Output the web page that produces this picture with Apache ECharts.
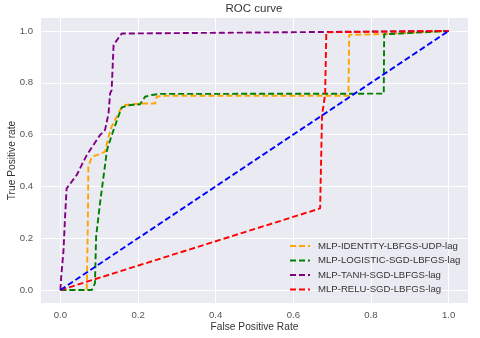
<!DOCTYPE html>
<html>
<head>
<meta charset="utf-8">
<script src="https://cdn.jsdelivr.net/npm/echarts@6/dist/echarts.min.js"></script>
<style>html,body{margin:0;padding:0;background:#fff}#c{width:480px;height:338px}</style>
</head>
<body>
<div id="c"></div>
<script>
var seriesNames = ['MLP-IDENTITY-LBFGS-UDP-lag','MLP-LOGISTIC-SGD-LBFGS-lag','MLP-TANH-SGD-LBFGS-lag','MLP-RELU-SGD-LBFGS-lag'];
var tickValues = [0, 0.2, 0.4, 0.6, 0.8, 1.0];

var identityFpr = [0, 0.068, 0.071, 0.072, 0.081, 0.094, 0.102, 0.115, 0.124, 0.132, 0.145, 0.154, 0.167, 0.205, 0.244, 0.248, 0.261, 0.742, 0.744, 0.833, 1.0];
var identityTpr = [0, 0, 0.30, 0.476, 0.515, 0.521, 0.525, 0.534, 0.592, 0.631, 0.669, 0.695, 0.714, 0.72, 0.72, 0.746, 0.75, 0.75, 0.985, 0.988, 1.0];

var logisticFpr = [0, 0.081, 0.089, 0.092, 0.102, 0.111, 0.12, 0.124, 0.137, 0.149, 0.158, 0.18, 0.205, 0.218, 0.236, 0.257, 0.833, 0.834, 1.0];
var logisticTpr = [0, 0, 0.026, 0.206, 0.335, 0.437, 0.54, 0.56, 0.618, 0.669, 0.705, 0.714, 0.717, 0.746, 0.753, 0.757, 0.758, 0.987, 1.0];

var tanhFpr = [0, 0.002, 0.008, 0.012, 0.016, 0.029, 0.042, 0.055, 0.068, 0.085, 0.102, 0.115, 0.124, 0.128, 0.132, 0.137, 0.149, 0.158, 1.0];
var tanhTpr = [0, 0.05, 0.154, 0.283, 0.392, 0.418, 0.444, 0.483, 0.521, 0.56, 0.598, 0.618, 0.682, 0.759, 0.772, 0.946, 0.972, 0.99, 1.0];

var reluFpr = [0, 0.669, 0.674, 0.678, 0.682, 0.685, 1.0];
var reluTpr = [0, 0.315, 0.676, 0.714, 0.759, 0.995, 1.0];

var diagFpr = [0, 1];
var diagTpr = [0, 1];

function zip(a, b) { return a.map(function (v, i) { return [v, b[i]]; }); }

var colors = ['#ffa500', '#008000', '#800080', '#ff0000'];
var lists = [[identityFpr, identityTpr], [logisticFpr, logisticTpr], [tanhFpr, tanhTpr], [reluFpr, reluTpr]];
var font = '"Liberation Sans", Arial, sans-serif';
var dashIcon = 'path://M0,0h6v2h-6z M9,0h6v2h-6z M18,0h2v2h-2z';

var series = lists.map(function (p, i) {
  return {
    name: seriesNames[i], type: 'line', data: zip(p[0], p[1]),
    symbol: 'none', smooth: false, animation: false,
    lineStyle: { color: colors[i], width: 1.9, type: [6, 3] },
    itemStyle: { color: colors[i] }
  };
});
series.push({
  name: 'diag', type: 'line', data: zip(diagFpr, diagTpr), symbol: 'none', animation: false,
  lineStyle: { color: '#0000ff', width: 1.9, type: [6, 3] }, itemStyle: { color: '#0000ff' }
});

function axis(name, gap, isY) {
  return {
    type: 'value', min: -0.05, max: 1.05, name: name, nameLocation: 'middle', nameGap: gap,
    nameMoveOverlap: false,
    nameTextStyle: { color: '#333', fontSize: 10.2, fontFamily: font },
    axisLine: { show: false },
    axisTick: { show: false, customValues: tickValues },
    axisLabel: { customValues: tickValues, color: '#555', fontSize: 9.6, fontFamily: font, margin: isY ? 8 : 7,
      formatter: function (v) { return v.toFixed(1); } },
    splitLine: { show: true, lineStyle: { color: '#ffffff', width: 1 } }
  };
}

var chart = echarts.init(document.getElementById('c'), null, { renderer: 'canvas' });
chart.setOption({
  backgroundColor: '#ffffff',
  animation: false,
  title: { text: 'ROC curve', left: 254, top: 3, padding: 0, textAlign: 'center',
    textStyle: { color: '#333', fontSize: 11.5, fontWeight: 'normal', fontFamily: font } },
  grid: { left: 41, right: 12, top: 18, bottom: 35, show: true, backgroundColor: '#eaeaf2', borderWidth: 0,
    containLabel: false, outerBoundsMode: 'none' },
  xAxis: axis('False Positive Rate', 19, false),
  yAxis: axis('True Positive rate', 24, true),
  legend: {
    data: seriesNames.map(function (n) { return { name: n, icon: dashIcon }; }),
    orient: 'vertical', left: 290, top: 241, padding: 0,
    itemWidth: 20, itemHeight: 10, itemGap: 4.5, symbolKeepAspect: true,
    textStyle: { color: '#333', fontSize: 9.6, fontFamily: font, padding: [0, 0, 0, 3] }
  },
  series: series
});
</script>
</body>
</html>
